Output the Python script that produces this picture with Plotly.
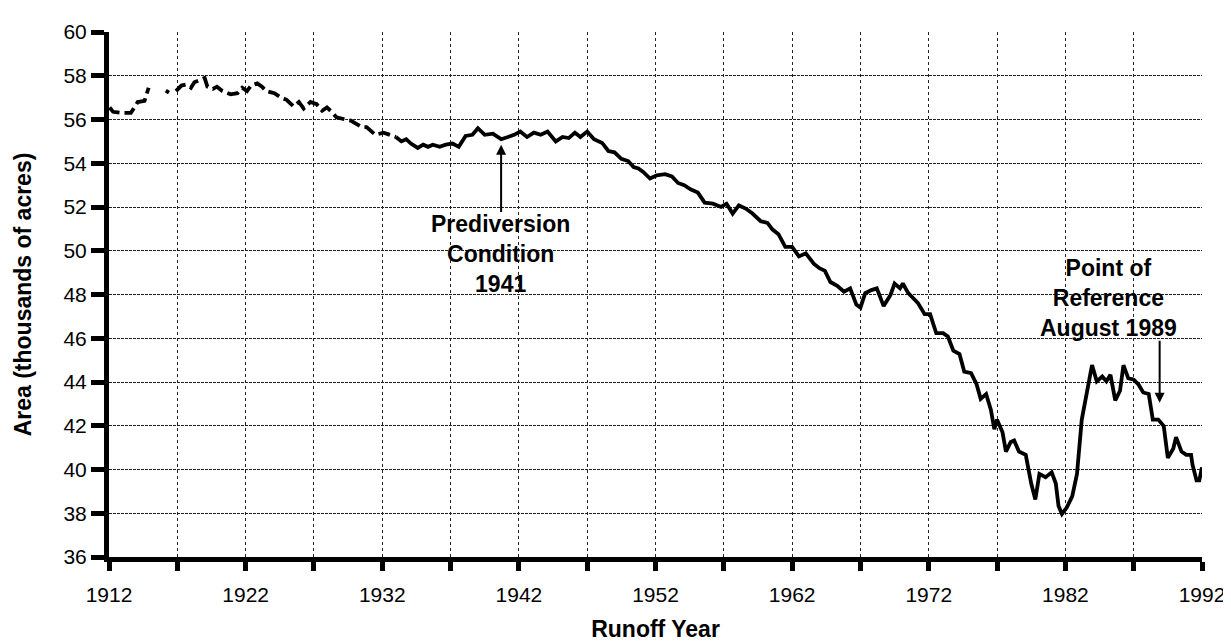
import plotly.graph_objects as go

# Estimated (dashed) record, None marks gaps in the dashed line
est_years = [1912.05, 1912.3, 1912.9, 1913.6, 1914.1, 1914.6, 1914.9, None,
             1916.2, 1916.35, None,
             1916.9, 1917.3, 1917.65, 1918.0, 1918.25, 1919.0, 1919.2, 1919.6, 1919.9,
             1920.3, 1920.9, 1921.4, 1921.75, 1922.1, 1922.4, 1922.85, 1923.2, 1923.5,
             1924.1, 1924.6, 1925.0, 1925.5, 1925.9, 1926.25, 1926.75, 1927.2, 1927.6,
             1927.95, 1928.3, 1928.65, 1929.3, 1929.7, 1930.1, 1930.5, 1930.85, 1931.5,
             1932.1, 1932.6, 1933.0]
est_area = [56.55, 56.35, 56.3, 56.3, 56.8, 56.85, 57.45, None,
            57.2, 57.35, None,
            57.3, 57.55, 57.6, 57.45, 57.7, 57.9, 57.5, 57.4, 57.5,
            57.3, 57.15, 57.2, 57.45, 57.3, 57.55, 57.65, 57.5, 57.3,
            57.2, 57.0, 56.9, 56.6, 56.8, 56.5, 56.8, 56.7, 56.4,
            56.55, 56.35, 56.1, 56.0, 55.95, 55.8, 55.65, 55.65, 55.3,
            55.4, 55.3, 55.2]

# Recorded (solid) series
rec_years = [1933.0, 1933.4, 1933.75, 1934.1, 1934.6, 1935.0, 1935.35, 1935.7, 1936.2, 1936.65,
             1937.15, 1937.6, 1938.1, 1938.6, 1939.0, 1939.5, 1940.1, 1940.7, 1941.2, 1941.65,
             1942.1, 1942.6, 1943.1, 1943.6, 1944.1, 1944.7, 1945.2, 1945.65, 1946.1, 1946.5,
             1947.0, 1947.5, 1948.1, 1948.55, 1949.0, 1949.5, 1950.0, 1950.4, 1950.75, 1951.1,
             1951.6, 1952.1, 1952.7, 1953.2, 1953.65, 1954.1, 1954.6, 1955.1, 1955.6, 1956.2,
             1956.8, 1957.2, 1957.65, 1958.1, 1958.6, 1959.1, 1959.7, 1960.2, 1960.55, 1961.0,
             1961.5, 1962.0, 1962.5, 1963.0, 1963.6, 1964.0, 1964.4, 1964.8, 1965.3, 1965.8,
             1966.25, 1966.7, 1967.0, 1967.35, 1967.8, 1968.2, 1968.7, 1969.2, 1969.5, 1969.9,
             1970.1, 1970.5, 1970.85, 1971.2, 1971.7, 1972.1, 1972.55, 1973.05, 1973.4, 1973.8,
             1974.25, 1974.6, 1975.1, 1975.5, 1975.8, 1976.2, 1976.55, 1976.8, 1977.0, 1977.4,
             1977.65, 1978.0, 1978.25, 1978.6, 1979.1, 1979.5, 1979.8, 1980.1, 1980.55, 1981.0,
             1981.3, 1981.5, 1981.75, 1982.1, 1982.5, 1982.85, 1983.2, 1983.6, 1983.95, 1984.3,
             1984.7, 1985.0, 1985.3, 1985.65, 1986.0, 1986.25, 1986.6, 1987.0, 1987.35, 1987.7,
             1988.1, 1988.4, 1988.8, 1989.2, 1989.5, 1989.9, 1990.1, 1990.5, 1990.85, 1991.2,
             1991.3, 1991.6, 1991.8, 1992.0]
rec_area = [55.2, 55.0, 55.1, 54.9, 54.7, 54.85, 54.75, 54.85, 54.75, 54.85,
            54.9, 54.75, 55.25, 55.3, 55.6, 55.3, 55.35, 55.1, 55.2, 55.3,
            55.45, 55.2, 55.4, 55.3, 55.45, 55.0, 55.2, 55.15, 55.4, 55.2,
            55.45, 55.1, 54.93, 54.56, 54.5, 54.2, 54.1, 53.83, 53.76, 53.6,
            53.3, 53.45, 53.5, 53.4, 53.1, 53.0, 52.8, 52.66, 52.2, 52.15,
            52.0, 52.15, 51.7, 52.07, 51.93, 51.7, 51.35, 51.27, 50.98, 50.76,
            50.18, 50.18, 49.74, 49.88, 49.4, 49.2, 49.08, 48.57, 48.4, 48.13,
            48.28, 47.54, 47.4, 48.06, 48.2, 48.28, 47.47, 47.98, 48.5, 48.28,
            48.5, 48.06, 47.84, 47.62, 47.1, 47.1, 46.23, 46.23, 46.08, 45.43,
            45.28, 44.47, 44.4, 43.9, 43.23, 43.45, 42.72, 41.84, 42.28, 41.7,
            40.82, 41.26, 41.33, 40.82, 40.67, 39.36, 38.63, 39.8, 39.65, 39.87,
            39.36, 38.33, 37.97, 38.26, 38.77, 39.8, 42.28, 43.6, 44.77, 44.03,
            44.25, 44.03, 44.33, 43.16, 43.6, 44.77, 44.18, 44.11, 43.89, 43.52,
            43.45, 42.28, 42.28, 41.99, 40.53, 40.96, 41.48, 40.82, 40.67, 40.67,
            40.23, 39.5, 39.5, 40.1]

x_tickvals = [1912, 1917, 1922, 1927, 1932, 1937, 1942, 1947, 1952, 1957, 1962,
              1967, 1972, 1977, 1982, 1987, 1992]
x_ticktext = ["1912", "", "1922", "", "1932", "", "1942", "", "1952", "", "1962",
              "", "1972", "", "1982", "", "1992"]
y_tickvals = [36, 38, 40, 42, 44, 46, 48, 50, 52, 54, 56, 58, 60]

FONT = "Liberation Sans, Arial, Helvetica, sans-serif"

fig = go.Figure()
fig.add_trace(go.Scatter(x=est_years, y=est_area, mode="lines", connectgaps=False,
                         line=dict(color="black", width=3.8, dash="12px,5px"),
                         showlegend=False, hoverinfo="skip"))
fig.add_trace(go.Scatter(x=rec_years, y=rec_area, mode="lines",
                         line=dict(color="black", width=3.8),
                         showlegend=False, hoverinfo="skip"))

# Annotations
fig.add_annotation(x=1940.7, y=54.85, ax=1940.7, ay=51.7, xref="x", yref="y",
                   axref="x", ayref="y", showarrow=True, arrowhead=2, arrowsize=1,
                   arrowwidth=2, arrowcolor="black", text="")
fig.add_annotation(x=1940.65, y=49.83, xref="x", yref="y", showarrow=False,
                   text="<b>Prediversion</b><br><b>Condition</b><br><b>1941</b>",
                   font=dict(family=FONT, size=23, color="black"), align="center")
fig.add_annotation(x=1988.9, y=43.05, ax=1988.9, ay=45.95, xref="x", yref="y",
                   axref="x", ayref="y", showarrow=True, arrowhead=2, arrowsize=1,
                   arrowwidth=2, arrowcolor="black", text="")
fig.add_annotation(x=1985.16, y=47.85, xref="x", yref="y", showarrow=False,
                   text="<b>Point of</b><br><b>Reference</b><br><b>August 1989</b>",
                   font=dict(family=FONT, size=23, color="black"), align="center")

fig.update_layout(
    width=1231, height=643,
    margin=dict(l=93, r=37, t=15, b=78),
    paper_bgcolor="white", plot_bgcolor="white",
    font=dict(family=FONT, color="black", size=21),
    xaxis=dict(range=[1912, 1992], tickmode="array", tickvals=x_tickvals,
               ticktext=x_ticktext, ticks="outside", ticklen=9, tickwidth=5,
               tickcolor="black", showline=True, linewidth=5, linecolor="black",
               showgrid=True, gridcolor="#222", griddash="dot", gridwidth=1,
               zeroline=False, tickfont=dict(size=21), ticklabelstandoff=6,
               title=dict(text="<b>Runoff Year</b>", font=dict(size=23), standoff=17)),
    yaxis=dict(range=[36, 60], tickmode="array", tickvals=y_tickvals,
               ticks="outside", ticklen=13, tickwidth=5, tickcolor="black",
               showline=True, linewidth=5, linecolor="black",
               showgrid=True, gridcolor="#222", griddash="3px,1px", gridwidth=1,
               zeroline=False, tickfont=dict(size=21),
               title=dict(text="<b>Area (thousands of acres)</b>", font=dict(size=23),
                          standoff=27)),
)

fig.write_html("out.html")
